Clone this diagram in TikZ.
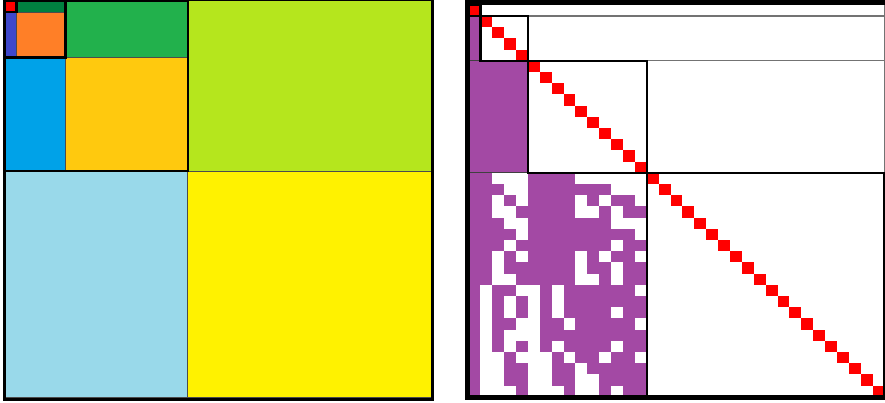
\documentclass[tikz,border=0pt]{standalone}
\definecolor{cRed}{RGB}{255,0,0}
\definecolor{cDkGreen}{RGB}{0,128,64}
\definecolor{cIndigo}{RGB}{63,72,204}
\definecolor{cOrange}{RGB}{255,127,39}
\definecolor{cGreen}{RGB}{34,177,76}
\definecolor{cTurq}{RGB}{0,162,232}
\definecolor{cGold}{RGB}{255,201,14}
\definecolor{cLime}{RGB}{181,230,29}
\definecolor{cLtBlue}{RGB}{153,217,234}
\definecolor{cYellow}{RGB}{255,242,0}
\definecolor{cPurp}{RGB}{163,73,164}
\tikzset{
  cell/.style={draw=black!70, line width=0.8pt},
  thickbox/.style={draw=black, line width=2.6pt},
  outerframe/.style={draw=black, line width=3.6pt},
  rframe/.style={draw=black, line width=4.8pt},
  grayblock/.style={draw=black!55, line width=1.2pt},
  purpblock/.style={draw=black!75, line width=0.8pt},
  purpcell/.style={fill=cPurp},
  diagcell/.style={fill=cRed}
}
\newcommand\pcells[2]{\def\pcrow{#1}\def\pccol{0}\pcparse#2\relax}
\def\pcparse#1{\ifx#1\relax\else
  \if1#1\fill[purpcell] (\pccol,\pcrow) rectangle ++(1,1);\fi
  \pgfmathtruncatemacro\pccol{\pccol+1}\expandafter\pcparse\fi}
\begin{document}
\begin{tikzpicture}[x=1pt,y=-1pt]
\useasboundingbox (0,0) rectangle (885,402);
\fill[white] (0,0) rectangle (885,402);
% ---------- left panel ----------
\begin{scope}[shift={(4.2,0.8)}, x=12.24pt, y=-11.34pt]
  \path[cell, fill=cRed] (0,0) rectangle (1,1);
  \path[cell, fill=cDkGreen] (1,0) rectangle (5,1);
  \path[cell, fill=cIndigo] (0,1) rectangle (1,5);
  \path[cell, fill=cOrange] (1,1) rectangle (5,5);
  \path[cell, fill=cGreen] (5,0) rectangle (15,5);
  \path[cell, fill=cTurq] (0,5) rectangle (5,15);
  \path[cell, fill=cGold] (5,5) rectangle (15,15);
  \path[cell, fill=cLime] (15,0) rectangle (35,15);
  \path[cell, fill=cLtBlue] (0,15) rectangle (15,35);
  \path[cell, fill=cYellow] (15,15) rectangle (35,35);
  \draw[thickbox] (0,0) rectangle (1,1);
  \draw[thickbox] (0,0) rectangle (5,5);
  \draw[thickbox] (0,0) rectangle (15,15);
\end{scope}
\draw[outerframe] (4.5,-1) rectangle (432.5,399.5);
% ---------- right panel ----------
\begin{scope}[shift={(468.45,4.8)}, x=11.89pt, y=-11.2pt]
  \fill[purpcell] (0,1) rectangle (1,5);
  \fill[purpcell] (0,5) rectangle (5,15);
  \pcells{15}{110001111000000}
  \pcells{16}{111001111111000}
  \pcells{17}{110101111010110}
  \pcells{18}{110011111001011}
  \pcells{19}{111001111111000}
  \pcells{20}{111101111111110}
  \pcells{21}{111011111111011}
  \pcells{22}{110101111010110}
  \pcells{23}{110111111011011}
  \pcells{24}{110011111001011}
  \pcells{25}{101100101111110}
  \pcells{26}{101010101111111}
  \pcells{27}{101010101111011}
  \pcells{28}{101100110111110}
  \pcells{29}{101000111111111}
  \pcells{30}{101010101111011}
  \pcells{31}{100100010110110}
  \pcells{32}{100110011011111}
  \pcells{33}{100110011001111}
  \pcells{34}{100010001001011}
  \foreach \i in {0,...,34} \fill[diagcell] (\i,\i) rectangle ++(1,1);
  \draw[purpblock] (0,1) rectangle (1,5);
  \draw[purpblock] (0,5) rectangle (5,15);
  \draw[purpblock] (0,15) rectangle (15,35);
  \draw[grayblock] (1,0) rectangle (35,1);
  \draw[grayblock] (5,1) rectangle (35,5);
  \draw[grayblock] (15,5) rectangle (35,15);
  \draw[thickbox] (0,0) rectangle (1,1);
  \draw[thickbox] (1,1) rectangle (5,5);
  \draw[thickbox] (5,5) rectangle (15,15);
  \draw[thickbox] (15,15) rectangle (35,35);
\end{scope}
\draw[rframe] (467.6,2.4) rectangle (890,397.6);
\end{tikzpicture}
\end{document}
